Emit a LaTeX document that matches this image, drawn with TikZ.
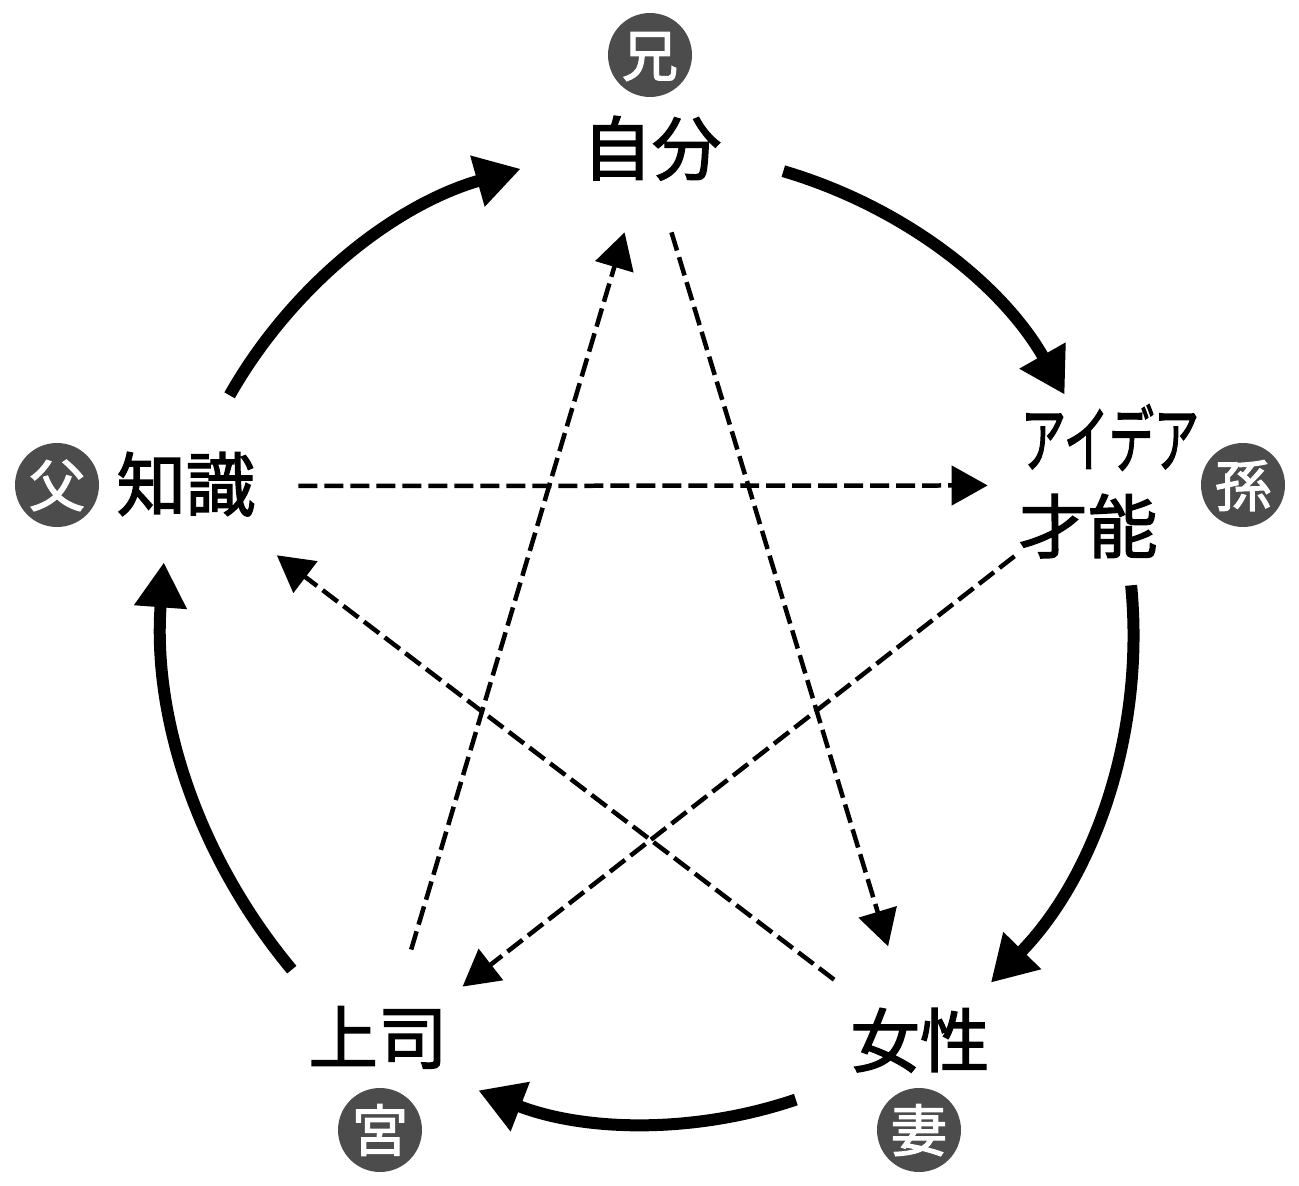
\documentclass[tikz,border=0pt]{standalone}
\usepackage{fontspec}
\setmainfont[FakeBold=2]{Noto Sans CJK JP}
\usetikzlibrary{arrows.meta}
\tikzset{
	x=0.02cm,
	y=-0.02cm,
	looseness=0.9,
	word/.style={font=\fontsize{39.5pt}{44pt}\selectfont, inner sep=0pt, text height=34.8pt, text depth=4.7pt},
	badge/.style={circle, fill=black!70, text=white, inner sep=0pt, minimum size=1.68cm,
		font=\fontsize{32pt}{36pt}\selectfont, text height=28.2pt, text depth=3.8pt},
	solidarc/.style={-{Triangle[length=0.9cm,width=1cm]}, line width=0.24cm},
	dashlink/.style={-{Triangle[length=0.72cm,width=0.78cm]}, line width=0.09cm, dash pattern=on 0.38cm off 0.14cm},
}
\begin{document}
\begin{tikzpicture}
	\useasboundingbox (0,0) rectangle (1299,1186);
	\node[word, minimum width=5.24cm, minimum height=3.36cm] (jibun) at (652,148) {自分};
	\node[word, minimum width=4.8cm, minimum height=1.8cm] (idea) at (1110,440) {\scalebox{0.65}[1.05]{アイデア}};
	\node[word, minimum width=4cm, minimum height=2.36cm] (saino) at (1088,526) {才能};
	\node[word, minimum width=5cm, minimum height=2.28cm] (josei) at (920,1040) {女性};
	\node[word, minimum width=4cm, minimum height=2.68cm] (joushi) at (378,1037) {上司};
	\node[word, minimum width=4.48cm, minimum height=3.36cm] (chishiki) at (186,484) {知識};

	\node[badge] (ani) at (650,55) {兄};
	\node[badge] (mago) at (1243,485) {孫};
	\node[badge] (tsuma) at (919,1130) {妻};
	\node[badge] (tsukasa) at (380,1130) {宮};
	\node[badge] (chichi) at (57,485) {父};

	% outer circle
	\draw[solidarc] (jibun.-10.4) to[bend left=22] (idea.135);
	\draw[solidarc] (saino.-54.6) to[bend left=25] (josei.39.5);
	\draw[solidarc, shorten <=0.14cm] (josei.206.2) to[bend left=20] (joushi.-28.8);
	\draw[solidarc, shorten >=-0.12cm] (joushi.142.7) to[bend left=22] (chishiki.255);
	\draw[solidarc, shorten <=0.1cm] (chishiki.64.7) to[bend left=22.3] (jibun.189.5);

	% inner star
	\draw[dashlink, shorten >=0.76cm] (jibun.-77.9) -- (josei.110.2);
	\draw[dashlink, shorten <=-0.68cm, shorten >=-0.4cm] (saino.207.9) -- (joushi.32.6);
	\draw[dashlink, shorten <=0.1cm, shorten >=-0.43cm] (josei.145) -- (chishiki.-38.4);
	\draw[dashlink, shorten <=0.42cm] (joushi.68.8) -- (jibun.252.2);
	\draw[dashlink] (chishiki.-1.5) -- (saino.158.7);
\end{tikzpicture}
\end{document}
